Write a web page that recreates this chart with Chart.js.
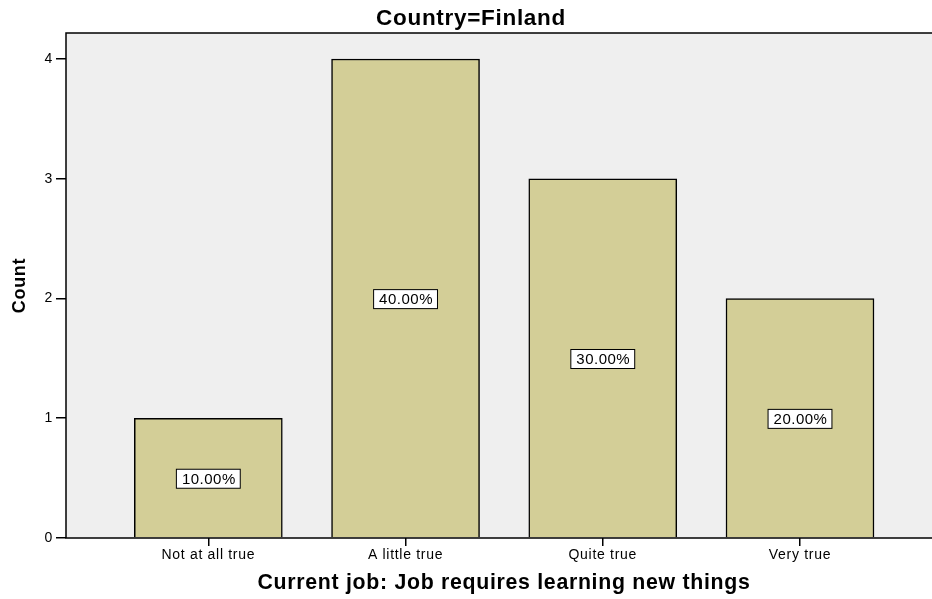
<!DOCTYPE html>
<html>
<head>
<meta charset="utf-8">
<script src="https://cdn.jsdelivr.net/npm/chart.js@4"></script>
<style>
  html, body { margin: 0; padding: 0; background: #fff; overflow: hidden; }
  #wrap { width: 944px; height: 599px; }
</style>
</head>
<body>
<div id="wrap"><canvas id="chart" width="944" height="599"></canvas></div>
<script>
// --- Data ---
const categories = ["Not at all true", "A little true", "Quite true", "Very true"];
const counts = [1, 4, 3, 2];
const yTicks = [0, 1, 2, 3, 4];

const FONT = '"Liberation Sans", Arial, sans-serif';
const total = counts.reduce((a, b) => a + b, 0);

// --- Plot frame, background and percent boxes ---
const framePlugin = {
    id: "frame",
    beforeDraw(chart) {
        const { ctx, chartArea: a } = chart;
        ctx.letterSpacing = "0.7px";
        ctx.save();
        ctx.fillStyle = "#efefef";
        ctx.fillRect(a.left, a.top, a.right - a.left, a.bottom - a.top);
        ctx.restore();
    },
    afterDatasetsDraw(chart) {
        const { ctx, chartArea: a } = chart;
        ctx.save();
        ctx.strokeStyle = "#000";
        ctx.lineWidth = 1.5;
        ctx.strokeRect(a.left, a.top, a.right - a.left, a.bottom - a.top);

        const meta = chart.getDatasetMeta(0);
        ctx.font = "15px " + FONT;
        ctx.letterSpacing = "0.5px";
        ctx.textAlign = "center";
        ctx.textBaseline = "middle";
        meta.data.forEach((bar, i) => {
            const txt = (counts[i] / total * 100).toFixed(2) + "%";
            const cy = (bar.y + bar.base) / 2 + 1;
            const w = ctx.measureText(txt).width + 10;
            const h = 19;
            ctx.fillStyle = "#fff";
            ctx.fillRect(bar.x - w / 2, cy - h / 2, w, h);
            ctx.lineWidth = 1;
            ctx.strokeStyle = "#000";
            ctx.strokeRect(bar.x - w / 2, cy - h / 2, w, h);
            ctx.fillStyle = "#000";
            ctx.fillText(txt, bar.x + 0.5, cy + 1);
        });
        ctx.restore();
        ctx.letterSpacing = "0.7px";
    }
};

const chart = new Chart(document.getElementById("chart"), {
    type: "bar",
    data: {
        datasets: [{
            data: counts.map((c, i) => ({ x: i, y: c })),
            backgroundColor: "#d3ce97",
            borderColor: "#000",
            borderWidth: 1.5,
            barThickness: 148
        }]
    },
    options: {
        responsive: false,
        animation: false,
        events: [],
        layout: { padding: { left: 0, right: 2, top: 0, bottom: 0 } },
        plugins: {
            legend: { display: false },
            tooltip: { enabled: false },
            title: {
                display: true,
                text: "Country=Finland",
                color: "#000",
                font: { family: FONT, size: 22.5, weight: "bold" },
                padding: { top: 5.5, bottom: 0.5 }
            }
        },
        scales: {
            x: {
                type: "linear",
                offset: false,
                min: -0.7216,
                max: 3.72,
                afterBuildTicks: (s) => { s.ticks = categories.map((c, i) => ({ value: i })); },
                afterFit: (s) => { s.height = 61; },
                ticks: {
                    callback: (v) => categories[v],
                    color: "#000",
                    font: { family: FONT, size: 14 },
                    padding: 1,
                    maxRotation: 0,
                    autoSkip: false
                },
                grid: { offset: false, drawOnChartArea: false, drawTicks: true, tickLength: 8, color: "#000", lineWidth: 1.5 },
                border: { display: false },
                title: {
                    display: true,
                    text: "Current job: Job requires learning new things",
                    color: "#000",
                    font: { family: FONT, size: 21.3, weight: "bold" },
                    padding: { top: 0, bottom: 3 }
                }
            },
            y: {
                min: 0,
                max: 4.217,
                afterBuildTicks: (s) => { s.ticks = yTicks.map(v => ({ value: v })); },
                afterFit: (s) => { s.width = 66; },
                ticks: {
                    color: "#000",
                    font: { family: FONT, size: 14 },
                    padding: 3
                },
                grid: { drawOnChartArea: false, drawTicks: true, tickLength: 10, color: "#000", lineWidth: 1.5 },
                border: { display: false },
                title: {
                    display: true,
                    text: "Count",
                    color: "#000",
                    font: { family: FONT, size: 18, weight: "bold" },
                    padding: { top: 9, bottom: 0 }
                }
            }
        }
    },
    plugins: [framePlugin]
});
</script>
</body>
</html>
